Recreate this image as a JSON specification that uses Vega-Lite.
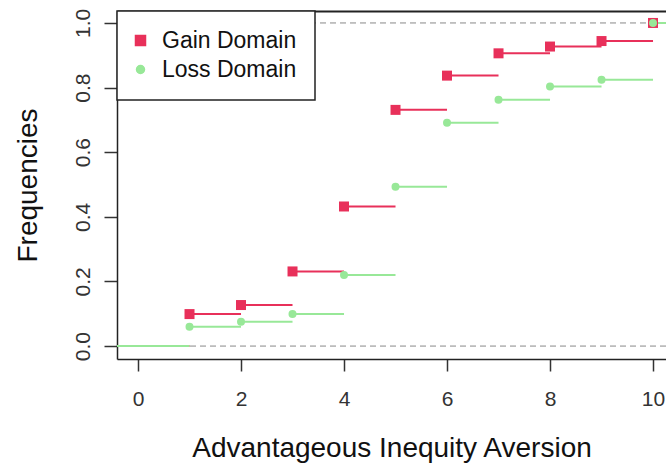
{
  "$schema": "https://vega.github.io/schema/vega-lite/v6.json",
  "width": 549,
  "height": 348,
  "autosize": {"type": "none"},
  "padding": {"left": 117, "top": 11, "right": 0, "bottom": 104},
  "background": "white",
  "config": {
    "view": {"stroke": null},
    "font": "Liberation Sans",
    "axis": {
      "grid": false,
      "domainColor": "#222",
      "domainWidth": 1.5,
      "tickColor": "#333",
      "tickWidth": 1.5,
      "tickSize": 12,
      "labelFont": "Liberation Sans",
      "labelFontSize": 21,
      "labelColor": "#333",
      "titleFont": "Liberation Sans",
      "titleFontSize": 28,
      "titleFontWeight": "normal",
      "titleColor": "#111"
    },
    "legend": {
      "labelFont": "Liberation Sans",
      "labelFontSize": 23,
      "labelColor": "#111",
      "orient": "top-left",
      "offset": 0,
      "strokeColor": "#222",
      "strokeWidth": 1.5,
      "fillColor": "white",
      "padding": 18,
      "rowPadding": 5,
      "labelOffset": 10,
      "symbolOffset": -6
    }
  },
  "data": {
    "values": [
      {"domain": "Gain Domain", "x": -1, "xend": 1, "y": 0, "pt": false},
      {"domain": "Gain Domain", "x": 1, "xend": 2, "y": 0.099, "pt": true},
      {"domain": "Gain Domain", "x": 2, "xend": 3, "y": 0.127, "pt": true},
      {"domain": "Gain Domain", "x": 3, "xend": 4, "y": 0.231, "pt": true},
      {"domain": "Gain Domain", "x": 4, "xend": 5, "y": 0.432, "pt": true},
      {"domain": "Gain Domain", "x": 5, "xend": 6, "y": 0.731, "pt": true},
      {"domain": "Gain Domain", "x": 6, "xend": 7, "y": 0.837, "pt": true},
      {"domain": "Gain Domain", "x": 7, "xend": 8, "y": 0.906, "pt": true},
      {"domain": "Gain Domain", "x": 8, "xend": 9, "y": 0.927, "pt": true},
      {"domain": "Gain Domain", "x": 9, "xend": 10, "y": 0.944, "pt": true},
      {"domain": "Gain Domain", "x": 10, "xend": 12, "y": 1.0, "pt": true},
      {"domain": "Loss Domain", "x": -1, "xend": 1, "y": 0, "pt": false},
      {"domain": "Loss Domain", "x": 1, "xend": 2, "y": 0.060, "pt": true},
      {"domain": "Loss Domain", "x": 2, "xend": 3, "y": 0.075, "pt": true},
      {"domain": "Loss Domain", "x": 3, "xend": 4, "y": 0.099, "pt": true},
      {"domain": "Loss Domain", "x": 4, "xend": 5, "y": 0.220, "pt": true},
      {"domain": "Loss Domain", "x": 5, "xend": 6, "y": 0.493, "pt": true},
      {"domain": "Loss Domain", "x": 6, "xend": 7, "y": 0.691, "pt": true},
      {"domain": "Loss Domain", "x": 7, "xend": 8, "y": 0.762, "pt": true},
      {"domain": "Loss Domain", "x": 8, "xend": 9, "y": 0.803, "pt": true},
      {"domain": "Loss Domain", "x": 9, "xend": 10, "y": 0.824, "pt": true},
      {"domain": "Loss Domain", "x": 10, "xend": 12, "y": 1.0, "pt": true}
    ]
  },
  "resolve": {"axis": {"x": "independent"}},
  "layer": [
    {
      "data": {"values": [{"h": 0}, {"h": 1}]},
      "mark": {"type": "rule", "color": "#888", "strokeWidth": 1, "strokeDash": [6, 4]},
      "encoding": {
        "y": {"field": "h", "type": "quantitative", "scale": {"domain": [-0.04, 1.037], "nice": false, "zero": false}}
      }
    },
    {
      "mark": {"type": "rule", "strokeWidth": 2, "clip": true},
      "encoding": {
        "x": {
          "field": "x", "type": "quantitative",
          "scale": {"domain": [-0.408, 10.252], "nice": false, "zero": false},
          "axis": {"orient": "bottom", "values": [0, 2, 4, 6, 8, 10], "labelPadding": 17, "title": "Advantageous Inequity Aversion", "titlePadding": 25, "labelFlush": false, "labelOverlap": false}
        },
        "x2": {"field": "xend"},
        "y": {
          "field": "y", "type": "quantitative",
          "scale": {"domain": [-0.04, 1.037], "nice": false, "zero": false},
          "axis": {"values": [0, 0.2, 0.4, 0.6, 0.8, 1.0], "format": ".1f", "labelAngle": 270, "labelAlign": "center", "labelBaseline": "bottom", "labelPadding": 11, "tickSize": 13, "title": "Frequencies", "titlePadding": 30}
        },
        "color": {
          "field": "domain", "type": "nominal",
          "scale": {"domain": ["Gain Domain", "Loss Domain"], "range": ["#E8305A", "#98E898"]}
        }
      }
    },
    {
      "transform": [{"filter": "datum.pt"}],
      "mark": {"type": "point", "filled": true, "opacity": 1, "clip": true},
      "encoding": {
        "x": {
          "field": "x", "type": "quantitative",
          "scale": {"domain": [-0.408, 10.252], "nice": false, "zero": false},
          "axis": {"orient": "top", "ticks": false, "labels": false, "title": null, "domainWidth": 2}
        },
        "y": {"field": "y", "type": "quantitative"},
        "color": {
          "field": "domain", "type": "nominal",
          "scale": {"domain": ["Gain Domain", "Loss Domain"], "range": ["#E8305A", "#98E898"]},
          "legend": {"title": null}
        },
        "shape": {
          "field": "domain", "type": "nominal",
          "scale": {"domain": ["Gain Domain", "Loss Domain"], "range": ["square", "circle"]},
          "legend": {"title": null}
        },
        "size": {
          "field": "domain", "type": "nominal",
          "scale": {"domain": ["Gain Domain", "Loss Domain"], "range": [100, 64]},
          "legend": {"title": null}
        }
      }
    }
  ]
}
